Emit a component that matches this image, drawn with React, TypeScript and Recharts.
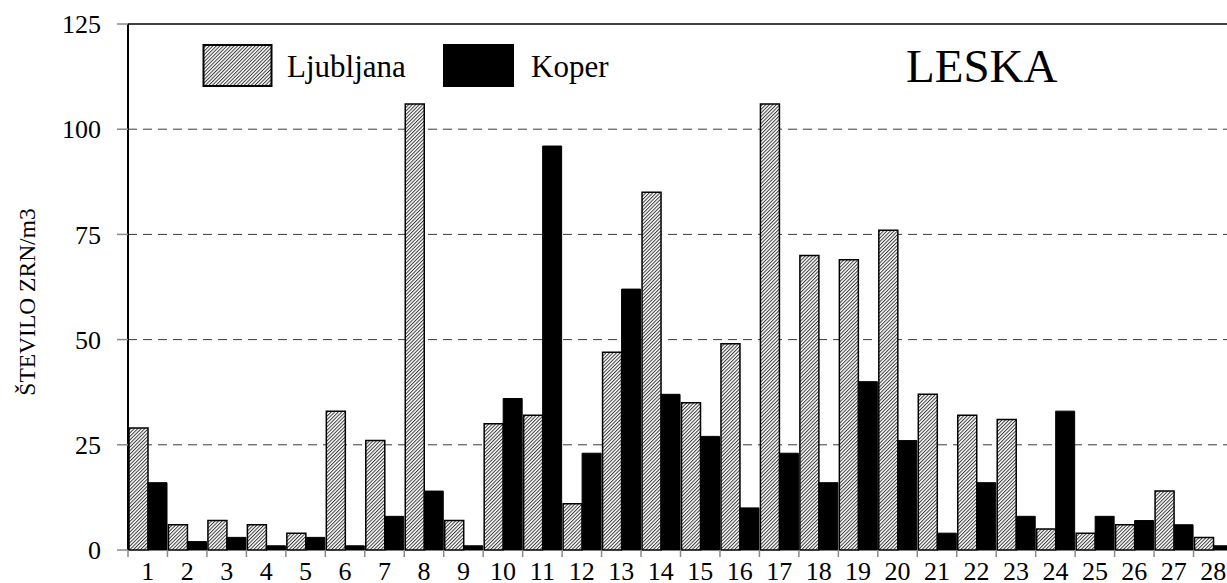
import React from 'react';
import { BarChart, Bar, XAxis, YAxis, CartesianGrid, ReferenceLine, Legend } from 'recharts';

const categories = ['1','2','3','4','5','6','7','8','9','10','11','12','13','14','15','16','17','18','19','20','21','22','23','24','25','26','27','28'];
const ljubljana = [29, 6, 7, 6, 4, 33, 26, 106, 7, 30, 32, 11, 47, 85, 35, 49, 106, 70, 69, 76, 37, 32, 31, 5, 4, 6, 14, 3];
const koper = [16, 2, 3, 1, 3, 1, 8, 14, 1, 36, 96, 23, 62, 37, 27, 10, 23, 16, 40, 26, 4, 16, 8, 33, 8, 7, 6, 1];
const yTicks = [0, 25, 50, 75, 100, 125];
const gridValues = [25, 50, 75, 100];
const seriesNames = ['Ljubljana', 'Koper'];
const chartTitle = 'LESKA';
const yLabel = 'ŠTEVILO ZRN/m3';

const data = categories.map((c, i) => ({ cat: c, ljubljana: ljubljana[i], koper: koper[i] }));

const FONT = 'Liberation Serif';
const CHART_W = 1245;
const CHART_H = 583;

const XTick = (props: any) => {
  const { x, y, payload } = props;
  const half = payload && payload.offset ? payload.offset : 1105 / 28 / 2;
  return (
    <g>
      <line x1={x - half} x2={x - half} y1={y} y2={y + 7} stroke="#8a8a8a" strokeWidth={1.5} />
      <text x={x} y={y + 12} dy="0.71em" textAnchor="middle" fontFamily={FONT} fontSize={26} fill="#000">
        {payload.value}
      </text>
    </g>
  );
};

const YLabel = (props: any) => {
  const vb = props.viewBox || { x: 0, y: 24, width: 128, height: 526 };
  const cx = vb.x + 35;
  const cy = vb.y + vb.height / 2 + 15;
  return (
    <text x={cx} y={cy} transform={`rotate(-90, ${cx}, ${cy})`} textAnchor="middle" style={{ fontFamily: FONT }} fontFamily={FONT} fontSize={23.5} fill="#000">
      {yLabel}
    </text>
  );
};

const HatchPattern = ({ id }: { id: string }) => (
  <pattern id={id} patternUnits="userSpaceOnUse" width={2.5} height={2.5} patternTransform="rotate(45)">
    <rect x={0} y={0} width={2.5} height={2.5} fill="#fff" />
    <line x1={0.5} y1={0} x2={0.5} y2={2.5} stroke="#3a3a3a" strokeWidth={1} />
  </pattern>
);

const renderLegend = () => (
  <svg width={1227} height={110} style={{ display: 'block' }}>
    <defs>
      <HatchPattern id="hatchLegend" />
    </defs>
    <rect x={203.5} y={45} width={68} height={41} fill="url(#hatchLegend)" stroke="#000" strokeWidth={2} />
    <text x={287} y={77} fontFamily={FONT} fontSize={31} fill="#000">{seriesNames[0]}</text>
    <rect x={443} y={44} width={71} height={43} fill="#000" />
    <text x={531} y={77} fontFamily={FONT} fontSize={31} fill="#000">{seriesNames[1]}</text>
    <text x={906} y={82} fontFamily={FONT} fontSize={47} fill="#000">{chartTitle}</text>
  </svg>
);

export default function App() {
  return (
    <div style={{ position: 'absolute', left: 0, top: 0, width: 1227, height: 583, overflow: 'hidden', background: '#fff', fontFamily: FONT }}>
      <BarChart
        width={CHART_W}
        height={CHART_H}
        data={data}
        margin={{ top: 24, right: 12, bottom: 0, left: 0 }}
        barCategoryGap={1}
        barGap={0}
      >
        <defs>
          <HatchPattern id="hatch" />
        </defs>
        <CartesianGrid vertical={false} horizontalValues={gridValues} stroke="#3a3a3a" strokeDasharray="9 6" />
        <XAxis
          dataKey="cat"
          height={33}
          axisLine={false}
          tickLine={false}
          tickSize={0}
          tickMargin={0}
          interval={0}
          tick={<XTick />}
        />
        <YAxis
          width={128}
          domain={[0, 125]}
          ticks={yTicks}
          interval={0}
          axisLine={{ stroke: '#000', strokeWidth: 2 }}
          tickLine={{ stroke: '#8a8a8a', strokeWidth: 1.5 }}
          tickSize={11}
          tickMargin={16}
          tick={{ fill: '#000', fontSize: 26, fontFamily: FONT }}
          label={YLabel}
        />
        <ReferenceLine y={125} stroke="#000" strokeWidth={1.5} />
        <Legend
          content={renderLegend}
          layout="horizontal"
          verticalAlign="middle"
          align="center"
          wrapperStyle={{ position: 'absolute', left: 0, top: 0, width: 1227, height: 110, margin: 0 }}
        />
        <Bar dataKey="ljubljana" name={seriesNames[0]} fill="url(#hatch)" stroke="#000" strokeWidth={1.5} isAnimationActive={false} />
        <Bar dataKey="koper" name={seriesNames[1]} fill="#000" stroke="#000" strokeWidth={1} isAnimationActive={false} />
      </BarChart>
    </div>
  );
}
